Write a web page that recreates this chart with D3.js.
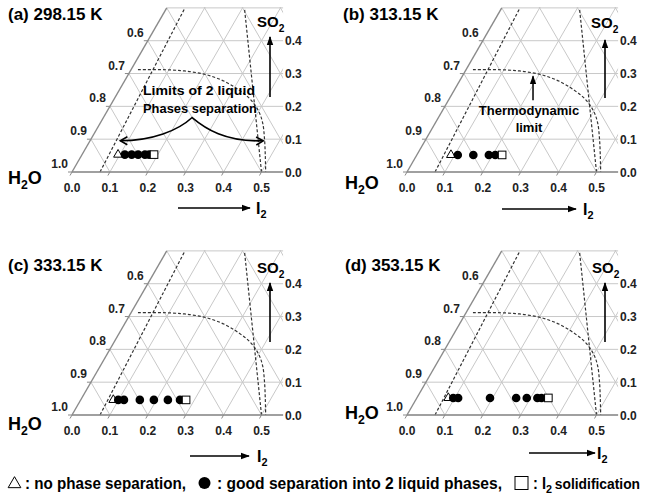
<!DOCTYPE html>
<html>
<head>
<meta charset="utf-8">
<script src="https://cdn.jsdelivr.net/npm/d3@7"></script>
<style>
  body { margin: 0; background: #fff; }
  text { font-family: "Liberation Sans", Arial, sans-serif; font-weight: bold; }
</style>
</head>
<body>
<svg id="chart" width="645" height="497"></svg>
<script>
// ---- data (mole fractions) ----
const titles = ['(a) 298.15 K', '(b) 313.15 K', '(c) 333.15 K', '(d) 353.15 K'];
const i2Ticks = [0, 0.1, 0.2, 0.3, 0.4, 0.5];
const so2Ticks = [0, 0.1, 0.2, 0.3, 0.4];
const h2oTicks = [1.0, 0.9, 0.8, 0.7, 0.6];

// SO2 fraction of the experimental feed line in each panel
const feedSO2 = [0.053, 0.052, 0.046, 0.052];
// I2 fraction of each experiment
const noSepI2 = [0.095, 0.090, 0.086, 0.083];
const goodSepI2 = [
  [0.113, 0.131, 0.148, 0.166, 0.177],
  [0.108, 0.149, 0.190, 0.207],
  [0.099, 0.114, 0.156, 0.193, 0.230, 0.262],
  [0.096, 0.109, 0.193, 0.262, 0.290, 0.318, 0.329]
];
const solidI2 = [0.190, 0.225, 0.278, 0.347];

// dashed limits as [I2, SO2]
const leftLimit = [[0.074, 0], [0.048, 0.5]];
const rightLimit = [[0.500, 0], [0.205, 0.5]];
const thermoLimit = [
  [0.018, 0.312], [0.104, 0.311], [0.157, 0.306], [0.208, 0.296],
  [0.262, 0.277], [0.315, 0.250], [0.359, 0.222], [0.400, 0.185],
  [0.428, 0.150], [0.458, 0.100], [0.485, 0.050], [0.511, 0.000]
];

const legendLabels = [': no phase separation,', ': good separation into 2 liquid phases,', ': I', '2', ' solidification'];

// ---- layout ----
const side = 379;          // px per unit mole fraction
const xMax = 0.557;        // right crop of the triangle (x units)
const sMax = 0.5;          // top crop (SO2)

const layout = [
  {x0: 72,  y0: 172, title: [8, 20],    h2o: [8, 184],   so2: [257, 27],  so2Arrow: [270, 97, 37],   i2Arrow: [178, 250, 208], i2Label: 256},
  {x0: 407, y0: 172, title: [343, 20],  h2o: [345, 189], so2: [591, 28],  so2Arrow: [605, 98, 40],   i2Arrow: [502, 576, 209], i2Label: 583},
  {x0: 72,  y0: 415, title: [8, 271],   h2o: [8, 430],   so2: [257, 273], so2Arrow: [270, 342, 283], i2Arrow: [190, 249, 456], i2Label: 257},
  {x0: 407, y0: 415, title: [345, 271], h2o: [345, 419], so2: [592, 273], so2Arrow: [605, 342, 283], i2Arrow: [529, 595, 453], i2Label: 597}
];

const svg = d3.select('#chart');
const defs = svg.append('defs');

defs.append('marker')
  .attr('id', 'head')
  .attr('viewBox', '0 -5 10 10')
  .attr('refX', 9).attr('refY', 0)
  .attr('markerWidth', 9).attr('markerHeight', 9)
  .attr('markerUnits', 'userSpaceOnUse')
  .attr('orient', 'auto-start-reverse')
  .append('path').attr('d', 'M0,-3.6L10,0L0,3.6Z').attr('fill', '#000');

defs.append('marker')
  .attr('id', 'chev')
  .attr('viewBox', '-10 -6 12 12')
  .attr('refX', 0).attr('refY', 0)
  .attr('markerWidth', 12).attr('markerHeight', 12)
  .attr('markerUnits', 'userSpaceOnUse')
  .attr('orient', 'auto-start-reverse')
  .append('path').attr('d', 'M-7,-4L0,0L-7,4')
  .attr('fill', 'none').attr('stroke', '#000').attr('stroke-width', 1.6);

function chem(g, x, y, parts, size) {
  const t = g.append('text').attr('x', x).attr('y', y).style('font-size', size + 'px');
  let low = false;
  parts.forEach(p => {
    const sub = /^\d$/.test(p);
    const ts = t.append('tspan').text(p);
    if (sub && !low) { ts.attr('dy', size * 0.3).style('font-size', (size * 0.68) + 'px'); low = true; }
    else if (!sub && low) { ts.attr('dy', -size * 0.3); low = false; }
  });
  return t;
}

layout.forEach((L, i) => {
  const g = svg.append('g');
  const xs = d3.scaleLinear().domain([0, 1]).range([L.x0, L.x0 + side]);
  const ys = d3.scaleLinear().domain([0, 1]).range([L.y0, L.y0 - side * Math.sqrt(3) / 2]);
  const proj = (i2, s) => [xs(i2 + s / 2), ys(s)];

  const clipId = 'clip' + i;
  const cp = [proj(0, 0), proj(0, sMax), [xs(xMax), ys(sMax) - 1], [xs(xMax), ys(0) + 1]];
  cp[0] = [cp[0][0] - 1, cp[0][1] + 1];
  cp[1] = [cp[1][0] - 1, cp[1][1] - 1];
  defs.append('clipPath').attr('id', clipId)
    .append('polygon').attr('points', cp.map(p => p.join(',')).join(' '));

  // grid
  const steps = d3.range(0, 11).map(k => k / 10);
  const grid = [];
  steps.filter(s => s <= sMax + 1e-9).forEach(s => grid.push([proj(0, s), proj(1 - s, s)]));
  steps.slice(1).forEach(c => grid.push([proj(c, 0), proj(c, 1 - c)]));
  steps.slice(1).forEach(c => grid.push([proj(c, 0), proj(0, c)]));

  const gg = g.append('g').attr('clip-path', `url(#${clipId})`);
  gg.selectAll('line.grid').data(grid).join('line')
    .attr('x1', d => d[0][0]).attr('y1', d => d[0][1])
    .attr('x2', d => d[1][0]).attr('y2', d => d[1][1])
    .attr('stroke', '#c8c8c8').attr('stroke-width', 1);

  // axes edges
  g.append('line').attr('x1', xs(0)).attr('y1', ys(0)).attr('x2', xs(xMax)).attr('y2', ys(0))
    .attr('stroke', '#8a8a8a').attr('stroke-width', 1.4);
  g.append('line').attr('x1', proj(0, 0)[0]).attr('y1', proj(0, 0)[1])
    .attr('x2', proj(0, sMax)[0]).attr('y2', proj(0, sMax)[1])
    .attr('stroke', '#8a8a8a').attr('stroke-width', 1.4);

  // ticks
  g.selectAll('line.bt').data(i2Ticks).join('line')
    .attr('x1', d => xs(d)).attr('y1', ys(0))
    .attr('x2', d => xs(d) - 2).attr('y2', ys(0) + 3.5)
    .attr('stroke', '#8a8a8a');
  g.selectAll('line.lt').data(so2Ticks).join('line')
    .attr('x1', d => proj(0, d)[0]).attr('y1', d => proj(0, d)[1])
    .attr('x2', d => proj(0, d)[0] - 4).attr('y2', d => proj(0, d)[1])
    .attr('stroke', '#8a8a8a');

  // tick labels
  g.selectAll('text.bl').data(i2Ticks).join('text')
    .attr('x', d => xs(d)).attr('y', ys(0) + 19.5)
    .attr('text-anchor', 'middle').style('font-size', '12px').attr('fill', '#222')
    .text(d => d.toFixed(1));
  g.selectAll('text.rl').data(so2Ticks).join('text')
    .attr('x', xs(xMax) + 2).attr('y', d => ys(d) + 4.5)
    .style('font-size', '12px').attr('fill', '#222')
    .text(d => d.toFixed(1));
  g.selectAll('text.ll').data(h2oTicks).join('text')
    .attr('x', (d, k) => proj(0, so2Ticks[k])[0] - 4)
    .attr('y', (d, k) => proj(0, so2Ticks[k])[1] - 4)
    .attr('text-anchor', 'end').style('font-size', '12px').attr('fill', '#222')
    .text(d => d.toFixed(1));

  // dashed limits
  const line = d3.line().x(d => proj(d[0], d[1])[0]).y(d => proj(d[0], d[1])[1]);
  const dash = p => p.attr('fill', 'none').attr('stroke', '#333').attr('stroke-width', 1.2)
    .attr('stroke-dasharray', '3,2');
  gg.append('path').attr('d', line(leftLimit)).call(dash);
  gg.append('path').attr('d', line(rightLimit)).call(dash);
  gg.append('path').attr('d', line.curve(d3.curveCatmullRom.alpha(0.5))(thermoLimit)).call(dash);

  // experiments
  const s = feedSO2[i];
  g.append('path')
    .attr('transform', `translate(${proj(noSepI2[i], s)})`)
    .attr('d', d3.symbol(d3.symbolTriangle, 34)())
    .attr('fill', '#fff').attr('stroke', '#000').attr('stroke-width', 1);
  g.selectAll('circle.good').data(goodSepI2[i]).join('circle')
    .attr('cx', d => proj(d, s)[0]).attr('cy', d => proj(d, s)[1]).attr('r', 4.3)
    .attr('fill', '#000');
  g.append('rect')
    .attr('x', proj(solidI2[i], s)[0] - 3.8).attr('y', proj(solidI2[i], s)[1] - 3.8)
    .attr('width', 7.6).attr('height', 7.6)
    .attr('fill', '#fff').attr('stroke', '#000').attr('stroke-width', 1);

  // titles and component labels
  g.append('text').attr('x', L.title[0]).attr('y', L.title[1]).style('font-size', '17px')
    .text(titles[i]);
  chem(g, L.h2o[0], L.h2o[1], ['H', '2', 'O'], 18);
  chem(g, L.so2[0], L.so2[1], ['SO', '2'], 15);
  chem(g, L.i2Label, L.i2Arrow[2] + 5.5, ['I', '2'], 16);

  g.append('line').attr('x1', L.so2Arrow[0]).attr('y1', L.so2Arrow[1])
    .attr('x2', L.so2Arrow[0]).attr('y2', L.so2Arrow[2])
    .attr('stroke', '#000').attr('stroke-width', 1.6).attr('marker-end', 'url(#head)');
  g.append('line').attr('x1', L.i2Arrow[0]).attr('y1', L.i2Arrow[2])
    .attr('x2', L.i2Arrow[1]).attr('y2', L.i2Arrow[2])
    .attr('stroke', '#000').attr('stroke-width', 1.6).attr('marker-end', 'url(#head)');

  // annotations
  if (i === 0) {
    const a = proj(0.080, 0.095), c = proj(0.234, 0.166), b = proj(0.457, 0.095);
    const p = d3.path();
    p.moveTo(a[0], a[1]);
    p.bezierCurveTo(a[0] + 32, a[1], c[0] - 14, c[1] + 13, c[0], c[1]);
    p.bezierCurveTo(c[0] + 13, c[1] + 11, c[0] + 33, b[1] + 1, b[0], b[1]);
    g.append('path').attr('d', p.toString()).attr('fill', 'none')
      .attr('stroke', '#000').attr('stroke-width', 1.6)
      .attr('marker-start', 'url(#chev)').attr('marker-end', 'url(#chev)');
    g.append('text').attr('x', 199).attr('y', 95).attr('text-anchor', 'middle')
      .style('font-size', '13.5px').attr('textLength', 112).attr('lengthAdjust', 'spacingAndGlyphs')
      .text('Limits of 2 liquid');
    g.append('text').attr('x', 200).attr('y', 113).attr('text-anchor', 'middle')
      .style('font-size', '13.5px').attr('textLength', 114).attr('lengthAdjust', 'spacingAndGlyphs')
      .text('Phases separation');
  }
  if (i === 1) {
    const tip = proj(0.185, 0.295);
    g.append('line').attr('x1', tip[0]).attr('y1', tip[1] + 25).attr('x2', tip[0]).attr('y2', tip[1] + 1)
      .attr('stroke', '#000').attr('stroke-width', 1.5).attr('marker-end', 'url(#head)');
    g.append('text').attr('x', 529).attr('y', 115).attr('text-anchor', 'middle')
      .style('font-size', '13px').text('Thermodynamic');
    g.append('text').attr('x', 529).attr('y', 132).attr('text-anchor', 'middle')
      .style('font-size', '13px').text('limit');
  }
});

// legend
const lg = svg.append('g');
const ly = 483;
lg.append('path').attr('transform', `translate(14.5,${ly + 1})`)
  .attr('d', d3.symbol(d3.symbolTriangle, 70)())
  .attr('fill', '#fff').attr('stroke', '#000').attr('stroke-width', 1);
lg.append('circle').attr('cx', 204.5).attr('cy', ly).attr('r', 6).attr('fill', '#000');
lg.append('rect').attr('x', 515).attr('y', ly - 6.5).attr('width', 13).attr('height', 13)
  .attr('fill', '#fff').attr('stroke', '#000').attr('stroke-width', 1);

// pieces: [label index, x, width, font size, dy]
const legendPieces = [[0, 25, 161, 16, 0], [1, 217, 285, 16, 0], [2, 533, 13, 16, 0], [3, 546, 6, 11, 4], [4, 551, 89, 14.5, 0]];
legendPieces.forEach(([k, x, w, fs, dy]) => {
  lg.append('text').attr('x', x).attr('y', ly + 6 + dy)
    .style('font-size', fs + 'px')
    .attr('textLength', w).attr('lengthAdjust', 'spacingAndGlyphs')
    .style('white-space', 'pre')
    .text(legendLabels[k]);
});
</script>
</body>
</html>
